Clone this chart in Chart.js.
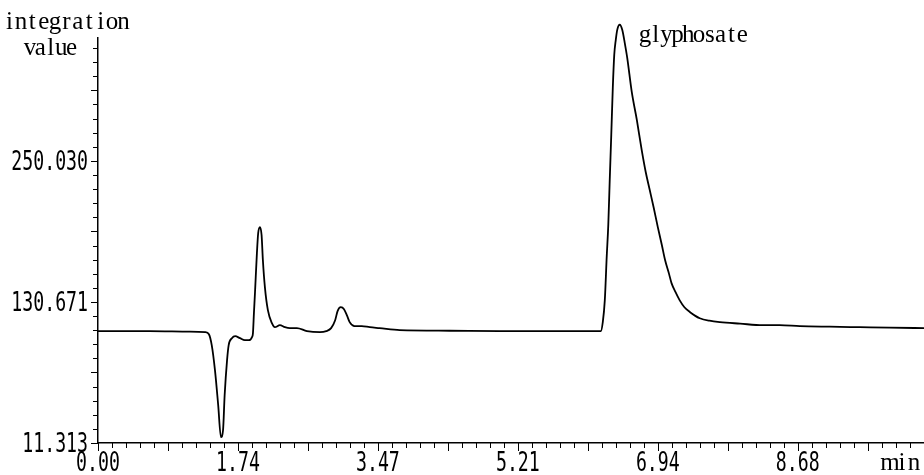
<!DOCTYPE html>
<html>
<head>
<meta charset="utf-8">
<script src="https://cdn.jsdelivr.net/npm/chart.js@4.4.0/dist/chart.umd.min.js"></script>
<style>
  html, body { margin: 0; padding: 0; background: #fff; }
  #wrap { width: 924px; height: 475px; }
</style>
</head>
<body>
<div id="wrap"><canvas id="chart" width="924" height="475"></canvas></div>
<script>
// ── Chromatogram trace: retention time (min) vs integration value ─────
const times = [
  0.00, 0.64, 1.14, 1.33, 1.375, 1.41, 1.45, 1.49, 1.524, 1.55, 1.57, 1.60,
  1.62, 1.66, 1.70, 1.76, 1.82, 1.87, 1.909, 1.921, 1.933, 1.946, 1.970, 1.986,
  2.007, 2.028, 2.044, 2.069, 2.106, 2.156, 2.193, 2.255, 2.317, 2.379, 2.466, 2.590,
  2.751, 2.83, 2.89, 2.94, 2.97, 3.01, 3.05, 3.09, 3.12, 3.18, 3.27, 3.37,
  3.49, 3.74, 4.36, 4.98, 5.60, 6.233, 6.258, 6.283, 6.307, 6.326, 6.344, 6.363,
  6.382, 6.400, 6.419, 6.437, 6.468, 6.499, 6.530, 6.561, 6.617, 6.68, 6.74, 6.79,
  6.84, 6.89, 6.94, 6.99, 7.03, 7.08, 7.11, 7.16, 7.21, 7.27, 7.34, 7.40,
  7.46, 7.58, 7.71, 7.96, 8.24, 8.45, 8.70, 9.07, 9.44, 9.81, 10.24
];
const signal = [
  106.0, 106.0, 105.5, 105.1, 103.4, 94.1, 72.9, 43.3, 16.2, 22.1, 51.7, 81.4,
  94.1, 100.0, 101.7, 100.0, 98.3, 98.3, 100.9, 104.3, 121.2, 138.2, 172.0, 189.0,
  194.0, 187.3, 166.1, 143.2, 123.7, 112.7, 109.3, 111.0, 109.3, 108.5, 108.5, 106.0,
  105.1, 106.0, 108.5, 115.2, 122.9, 126.2, 124.5, 118.6, 113.6, 110.2, 110.2, 109.3,
  108.5, 106.8, 106.3, 106.0, 106.0, 105.9, 113.6, 132.2, 169.5, 195.8, 233.8, 271.9,
  311.8, 339.7, 352.4, 360.9, 365.2, 360.9, 349.9, 337.2, 308.4, 284.7, 259.3, 240.6,
  225.4, 210.1, 194.0, 178.8, 166.1, 154.2, 146.6, 138.9, 132.2, 126.2, 122.0, 119.1,
  116.9, 114.8, 113.6, 112.3, 111.0, 111.0, 110.2, 109.7, 109.3, 108.9, 108.5
];

// ── Axis ticks ────────────────────────────────────────────────────────
const xTickValues = [0, 1.735, 3.47, 5.205, 6.94, 8.675];
const xTickLabels = ['0.00', '1.74', '3.47', '5.21', '6.94', '8.68'];
const yTickValues = [11.313, 130.671, 250.030];
const yTickLabels = ['11.313', '130.671', '250.030'];
const xMax = 10.24;
const yMax = 354;

// ── Narrow monospaced digits, like the instrument printout ────────────
function squeezeText(ctx, text, x, y, font, sx, align) {
  ctx.save();
  ctx.font = font;
  ctx.fillStyle = '#000';
  ctx.textAlign = align;
  ctx.textBaseline = 'alphabetic';
  ctx.translate(x, y);
  ctx.scale(sx, 1);
  ctx.fillText(text, 0, 0);
  ctx.restore();
}

// serif letters on a fixed pitch (first cell centred at x)
function pitchText(ctx, text, x, y, font, pitch) {
  ctx.save();
  ctx.font = font;
  ctx.fillStyle = '#000';
  ctx.textAlign = 'center';
  ctx.textBaseline = 'alphabetic';
  [...text].forEach((ch, i) => ctx.fillText(ch, x + i * pitch, y));
  ctx.restore();
}

const NUM_FONT = '26px "DejaVu Sans Mono"';
const WORD_FONT = '25px "Liberation Serif"';

// ── Tick marks, tick labels and annotations ───────────────────────────
const axisDecor = {
  id: 'axisDecor',
  afterDraw(chart) {
    const { ctx, scales: { x, y }, chartArea } = chart;
    ctx.save();
    ctx.strokeStyle = '#000';
    ctx.lineWidth = 1;

    // x ticks: ten minor steps per labelled interval
    const xStep = (xTickValues[1] - xTickValues[0]) / 10;
    for (let k = 0; k * xStep <= xMax + 1e-9; k++) {
      const px = Math.round(x.getPixelForValue(k * xStep)) + 0.5;
      const len = k % 5 === 0 ? 8 : 5;
      ctx.beginPath();
      ctx.moveTo(px, chartArea.bottom);
      ctx.lineTo(px, chartArea.bottom + len);
      ctx.stroke();
    }

    // y ticks, pointing left
    const yStep = (yTickValues[1] - yTickValues[0]) / 10;
    for (let k = 0; yTickValues[0] + k * yStep <= yMax + 1e-9; k++) {
      const py = Math.round(y.getPixelForValue(yTickValues[0] + k * yStep)) + 0.5;
      const len = k % 5 === 0 ? 7 : 5;
      ctx.beginPath();
      ctx.moveTo(chartArea.left, py);
      ctx.lineTo(chartArea.left - len, py);
      ctx.stroke();
    }
    ctx.restore();

    xTickValues.forEach((v, i) => {
      squeezeText(ctx, xTickLabels[i], x.getPixelForValue(v), 471, NUM_FONT, 0.7, 'center');
    });
    yTickValues.forEach((v, i) => {
      squeezeText(ctx, yTickLabels[i], 88, y.getPixelForValue(v) + 9, NUM_FONT, 0.7, 'right');
    });

    pitchText(ctx, 'integration', 9.5, 29, WORD_FONT, 11.4);
    pitchText(ctx, 'value', 30, 55, WORD_FONT, 10.4);
    pitchText(ctx, 'glyphosate', 645, 42, WORD_FONT, 10.8);
    pitchText(ctx, 'min', 890, 470, WORD_FONT, 12);
  }
};

// ── Chart ─────────────────────────────────────────────────────────────
const ctx = document.getElementById('chart').getContext('2d');
new Chart(ctx, {
  type: 'line',
  data: {
    datasets: [{
      data: times.map((t, i) => ({ x: t, y: signal[i] })),
      borderColor: '#000',
      borderWidth: 1.8,
      pointRadius: 0,
      fill: false,
      cubicInterpolationMode: 'monotone',
      clip: false,
    }]
  },
  options: {
    responsive: false,
    animation: false,
    events: [],
    layout: { padding: { top: 38, left: 0, right: 0, bottom: 0 } },
    plugins: { legend: { display: false }, tooltip: { enabled: false } },
    scales: {
      x: {
        type: 'linear', min: 0, max: xMax,
        grid: { display: false },
        ticks: { display: false },
        border: { display: true, color: '#000', width: 1.5 },
        afterFit(s) { s.height = 32; }
      },
      y: {
        type: 'linear', min: yTickValues[0], max: yMax,
        grid: { display: false },
        ticks: { display: false },
        border: { display: true, color: '#000', width: 1.5 },
        afterFit(s) { s.width = 98; }
      }
    }
  },
  plugins: [axisDecor]
});
</script>
</body>
</html>
